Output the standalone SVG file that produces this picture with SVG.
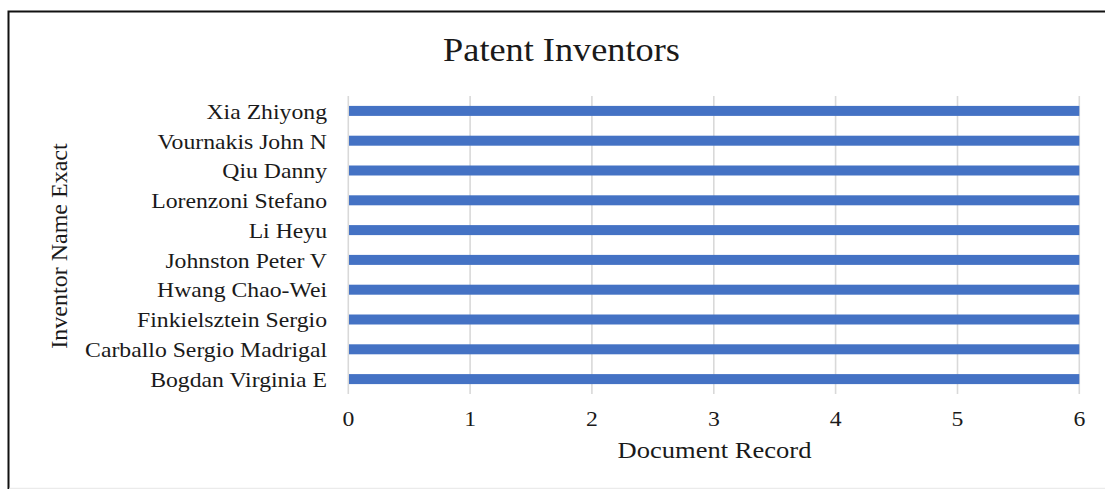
<svg xmlns="http://www.w3.org/2000/svg" width="1105" height="489" viewBox="0 0 1105 489">
<style>
text{font-family:"Liberation Serif","Times New Roman",serif;fill:#1a1a1a}
.cat{font-size:21px;text-anchor:end}
.tick{font-size:21px;text-anchor:middle}
.grid{stroke:#d9d9d9;stroke-width:1.6}
.bar{fill:#4472c4}
</style>
<rect x="0" y="0" width="1105" height="489" fill="#ffffff"/>
<path d="M8.5,489 V11.5 H1105" fill="none" stroke="#111" stroke-width="2"/>
<line x1="9" y1="488.3" x2="1105" y2="488.3" stroke="#e6e6e6" stroke-width="1"/>
<g id="title"><text transform="translate(561.5,61) scale(1.1,1)" font-size="33" text-anchor="middle">Patent Inventors</text></g>
<g id="gridlines">
<line class="grid" x1="348.3" y1="96" x2="348.3" y2="394"/>
<line class="grid" x1="470.1" y1="96" x2="470.1" y2="394"/>
<line class="grid" x1="591.9" y1="96" x2="591.9" y2="394"/>
<line class="grid" x1="713.8" y1="96" x2="713.8" y2="394"/>
<line class="grid" x1="835.6" y1="96" x2="835.6" y2="394"/>
<line class="grid" x1="957.5" y1="96" x2="957.5" y2="394"/>
<line class="grid" x1="1079.3" y1="96" x2="1079.3" y2="394"/>
</g>
<g id="bars">
<rect class="bar" x="349" y="105.9" width="730.3" height="10"/>
<rect class="bar" x="349" y="135.7" width="730.3" height="10"/>
<rect class="bar" x="349" y="165.5" width="730.3" height="10"/>
<rect class="bar" x="349" y="195.3" width="730.3" height="10"/>
<rect class="bar" x="349" y="225.1" width="730.3" height="10"/>
<rect class="bar" x="349" y="254.9" width="730.3" height="10"/>
<rect class="bar" x="349" y="284.7" width="730.3" height="10"/>
<rect class="bar" x="349" y="314.5" width="730.3" height="10"/>
<rect class="bar" x="349" y="344.3" width="730.3" height="10"/>
<rect class="bar" x="349" y="374.1" width="730.3" height="10"/>
</g>
<g id="category-labels" transform="translate(327,0) scale(1.13,1)">
<text class="cat" x="0" y="118.9">Xia Zhiyong</text>
<text class="cat" x="0" y="148.6">Vournakis John N</text>
<text class="cat" x="0" y="178.4">Qiu Danny</text>
<text class="cat" x="0" y="208.2">Lorenzoni Stefano</text>
<text class="cat" x="0" y="238">Li Heyu</text>
<text class="cat" x="0" y="267.8">Johnston Peter V</text>
<text class="cat" x="0" y="297.5">Hwang Chao-Wei</text>
<text class="cat" x="0" y="327.2">Finkielsztein Sergio</text>
<text class="cat" x="0" y="357">Carballo Sergio Madrigal</text>
<text class="cat" x="0" y="386.6">Bogdan Virginia E</text>
</g>
<g id="tick-labels">
<text class="tick" transform="translate(348.5,426) scale(1.13,1)">0</text>
<text class="tick" transform="translate(470.1,426) scale(1.13,1)">1</text>
<text class="tick" transform="translate(591.9,426) scale(1.13,1)">2</text>
<text class="tick" transform="translate(713.8,426) scale(1.13,1)">3</text>
<text class="tick" transform="translate(835.6,426) scale(1.13,1)">4</text>
<text class="tick" transform="translate(957.5,426) scale(1.13,1)">5</text>
<text class="tick" transform="translate(1079.3,426) scale(1.13,1)">6</text>
</g>
<g id="x-axis-title"><text transform="translate(714.5,458) scale(1.13,1)" font-size="23.5" text-anchor="middle">Document Record</text></g>
<g id="y-axis-title"><text transform="translate(67,246) rotate(-90)" font-size="24" text-anchor="middle">Inventor Name Exact</text></g>
</svg>
